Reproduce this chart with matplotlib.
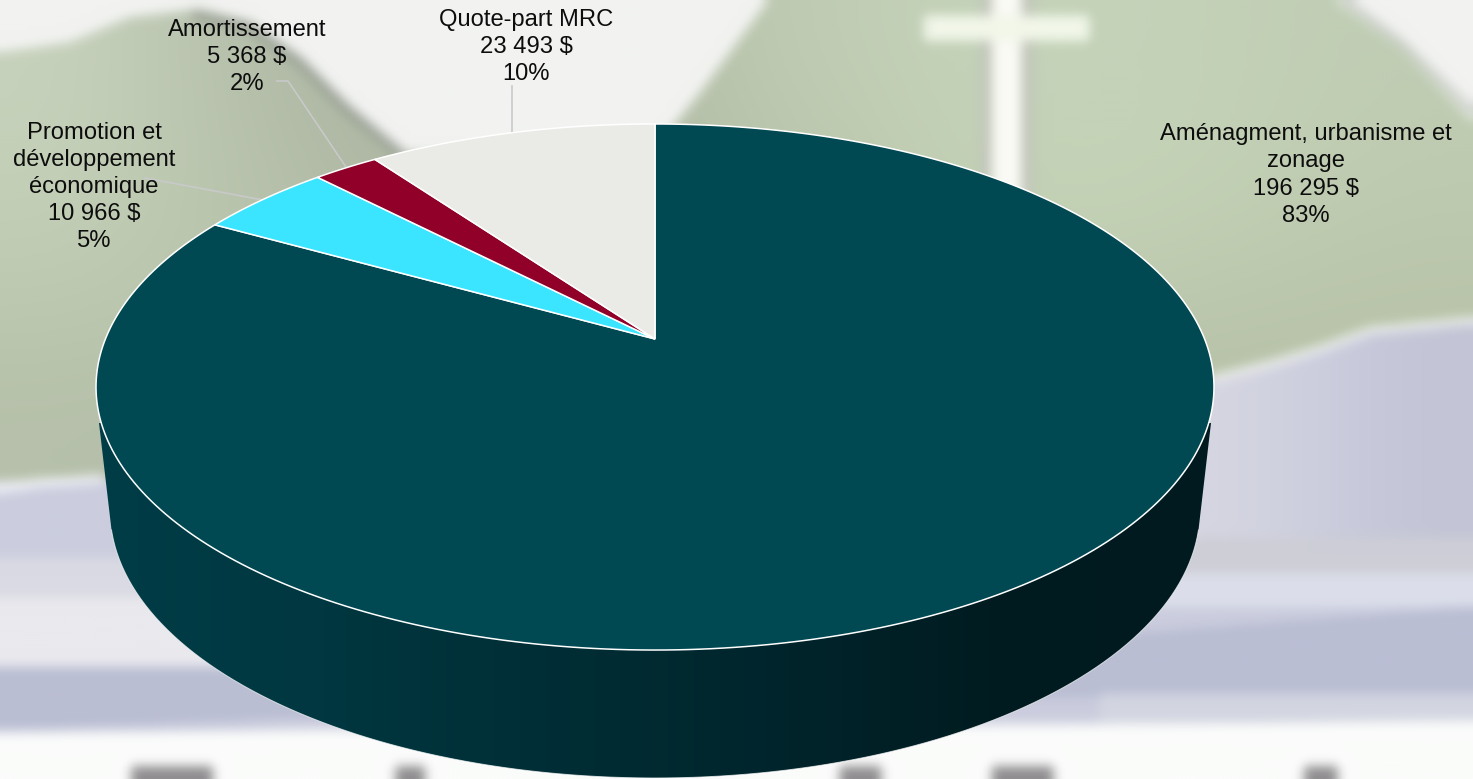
import numpy as np
import matplotlib
matplotlib.use("Agg")
import matplotlib.pyplot as plt
from matplotlib.colors import LinearSegmentedColormap, to_rgb

plt.rcParams["font.family"] = ["Liberation Sans", "DejaVu Sans"]

# Data, clockwise from 12 o'clock
categories = ["Aménagment, urbanisme et\nzonage", "Promotion et\ndéveloppement\néconomique",
	"Amortissement", "Quote-part MRC"]
values = [196295, 10966, 5368, 23493]
colors = ["#004852", "#3BE5FF", "#900028", "#EAEBE6"]
side_stops = ["#013D47", "#003740", "#002E36", "#00252C", "#001C21", "#001A20"]

# Coarse colours of the backdrop, rows from top to bottom
hill_grid = [
	["#C8D3BE", "#B0BAA6", "#A8B29E", "#B6C0AA", "#C2CFB6", "#C5D4BA", "#C4D2B8", "#C0CDB4"],
	["#C5D1B8", "#B6C0AA", "#AAB4A2", "#B2BCA8", "#BCC8AC", "#C6D5B9", "#C4D2B6", "#BECBB0"],
	["#BDC9B0", "#B8C3AC", "#B2BCA6", "#B4BEA8", "#BAC5AC", "#C0CCB0", "#BDC9AE", "#BAC5AA"],
	["#B6C0AA", "#B2BCA8", "#AEB8A4", "#B0BAA6", "#B4BEA6", "#B6C0A8", "#B4BEA6", "#B4BEA6"],
]
road_right = [["#D6D7E2", "#D2D3E0", "#C8CADC", "#C3C5D6"]]

W, H = 1473, 779
# Perspective of the pie top, pixels
CX, APEX_Y = 655, 339
PERSP, KY, KX = 0.1825, -192.4, 549.6


def project(theta):
	"""theta: clockwise from top, radians -> pixel position on the tilted disc."""
	px, py = np.sin(theta), np.cos(theta)
	w = 1 + PERSP * py
	return CX + KX * px / w, (KY * py + APEX_Y) / w


def grid_image(a, grid, extent, clip):
	rgb = np.array([[to_rgb(c) for c in row] for row in grid])
	im = a.imshow(rgb, extent=extent, interpolation="bicubic", aspect="auto", zorder=1)
	im.set_clip_path(clip)


def make_background():
	"""Blurred backdrop: drawn once at low resolution, then smoothed."""
	f = plt.figure(figsize=(W / 100, H / 100), dpi=25)
	a = f.add_axes([0, 0, 1, 1])
	a.add_patch(plt.Rectangle((0, 0), W, H, color="#F2F3F1"))
	# Hill, with a dark rim
	hill_x = [0, 70, 130, 200, 250, 300, 345, 400, 640, 700, 770, 1330, 1400, 1473, 1473, 1210, 1000, 100, 0]
	hill_y = [55, 45, 20, 12, 25, 60, 105, 155, 170, 95, 0, 0, 50, 125, 322, 392, 440, 482, 482]
	hill = a.fill(hill_x, hill_y, color="none")[0]
	grid_image(a, hill_grid, (0, W, 490, 0), hill)
	a.plot([195, 250, 300, 345, 400], [18, 30, 65, 110, 155], color="#858A83", lw=4.5, alpha=0.85)
	a.plot([1340, 1400, 1473], [0, 45, 115], color="#9FA69C", lw=2.5, alpha=0.9)
	# Cross
	a.fill([978, 1032, 1032, 978], [0, 0, 230, 230], color="#C2C6BA")
	a.fill([990, 1018, 1018, 990], [0, 0, 230, 230], color="#FAFBF5")
	a.fill([925, 1086, 1086, 925], [18, 18, 42, 42], color="#F2F7EA")
	# Road, lavender bands and bottom white
	road_x = [0, 100, 500, 1000, 1212, 1270, 1320, 1370, 1473, 1473, 0]
	road_y = [485, 482, 470, 430, 380, 365, 350, 332, 322, H, H]
	road = a.fill(road_x, road_y, color="#CBCDDE", zorder=1)[0]
	grid_image(a, road_right, (1150, W, 560, 320), road)
	a.plot([0, 40, 100], [490, 484, 480], color="#FAFAFF", lw=5)
	a.plot([1212, 1270, 1320, 1370, 1473], [380, 365, 350, 332, 322], color="#F4F6F4", lw=4.5)
	a.fill([1180, 1473, 1473, 1180], [540, 540, 575, 575], color="#CDCED6", zorder=1.5)
	a.fill([1150, 1473, 1473, 1150], [575, 575, 605, 605], color="#DCDFEB", zorder=1.5)
	a.fill([0, 700, 700, 0], [560, 560, 600, 600], color="#DADAE4", zorder=1.5)
	a.fill([0, 700, 700, 0], [600, 600, 668, 668], color="#E9E9EE", zorder=1.5)
	a.fill([0, 700, 1473, 1473, 700, 0], [668, 668, 608, 695, 700, 730], color="#BABED3", zorder=1.5)
	a.fill([1100, 1473, 1473, 1100], [695, 695, 725, 725], color="#D3D6E1", zorder=1.5)
	a.fill([0, 1473, 1473, 0], [733, 722, H, H], color="#FBFCFB", zorder=1.5)
	for bx, bw in [(170, 80), (410, 30), (860, 40), (1020, 60), (1320, 30)]:
		a.fill([bx - bw / 2, bx + bw / 2, bx + bw / 2, bx - bw / 2], [768, 768, H + 20, H + 20], color="#8E8C8E", zorder=1.6)
	a.set_xlim(0, W)
	a.set_ylim(H, 0)
	a.axis("off")
	f.canvas.draw()
	img = np.asarray(f.canvas.buffer_rgba())[..., :3].astype(float) / 255
	plt.close(f)
	for _ in range(4):
		p = np.pad(img, ((1, 1), (1, 1), (0, 0)), mode="edge")
		img = (p[1:-1, 1:-1] + p[:-2, 1:-1] + p[2:, 1:-1] + p[1:-1, :-2] + p[1:-1, 2:]) / 5
	return img


fig = plt.figure(figsize=(W / 100, H / 100), dpi=100)
ax = fig.add_axes([0, 0, 1, 1])
ax.imshow(make_background(), extent=(0, W, H, 0), interpolation="bilinear", aspect="auto", zorder=0)

# Side wall: bottom disc outline joined to the top disc by straight edges
t = np.linspace(np.pi * 0.5238, np.pi * 1.4762, 240)
low_x = CX + 545 * np.sin(t)
low_y = 510 + 268 * -np.cos(t)
side_x = np.r_[1211, low_x, 99]
side_y = np.r_[423, low_y, 423]
side = ax.fill(side_x, side_y, color="none", zorder=2)[0]
cmap = LinearSegmentedColormap.from_list("side", side_stops)
grad = ax.imshow(np.linspace(0, 1, 256)[None, :], extent=(96, 1213, 790, 380), cmap=cmap, aspect="auto",
	interpolation="bilinear", zorder=2)
grad.set_clip_path(side)
ax.plot(low_x, low_y, color="white", lw=0.7, alpha=0.7, zorder=3)

# Top of the pie
fractions = np.array(values) / sum(values)
edges = np.r_[0, np.cumsum(fractions)] * 2 * np.pi
for i in range(len(values)):
	th = np.linspace(edges[i], edges[i + 1], 300)
	x, y = project(th)
	ax.fill(np.r_[CX, x], np.r_[APEX_Y, y], facecolor=colors[i], edgecolor="white", lw=1.1, zorder=4)

# Leader lines
leader = "#C8C9C9"
ax.plot([512, 512], [86, 133], color=leader, lw=1.2, zorder=3)
ax.plot([277, 288, 346], [81, 81, 167], color=leader, lw=1.2, zorder=3)
ax.plot([145, 263], [178, 200], color=leader, lw=1.2, zorder=3)

# Labels
label_pos = [(1306, 175), (94, 187), (247, 57), (526, 47)]
for cat, val, frac, (lx, ly) in zip(categories, values, fractions, label_pos):
	money = f"{val:,}".replace(",", " ") + " $"
	ax.text(lx, ly, f"{cat}\n{money}\n{frac * 100:.0f}%", ha="center", va="center", fontsize=17.1,
		linespacing=1.3, color="#0D0D0D", zorder=5)

ax.set_xlim(0, W)
ax.set_ylim(H, 0)
ax.axis("off")
fig.savefig("out.png", dpi=100)
